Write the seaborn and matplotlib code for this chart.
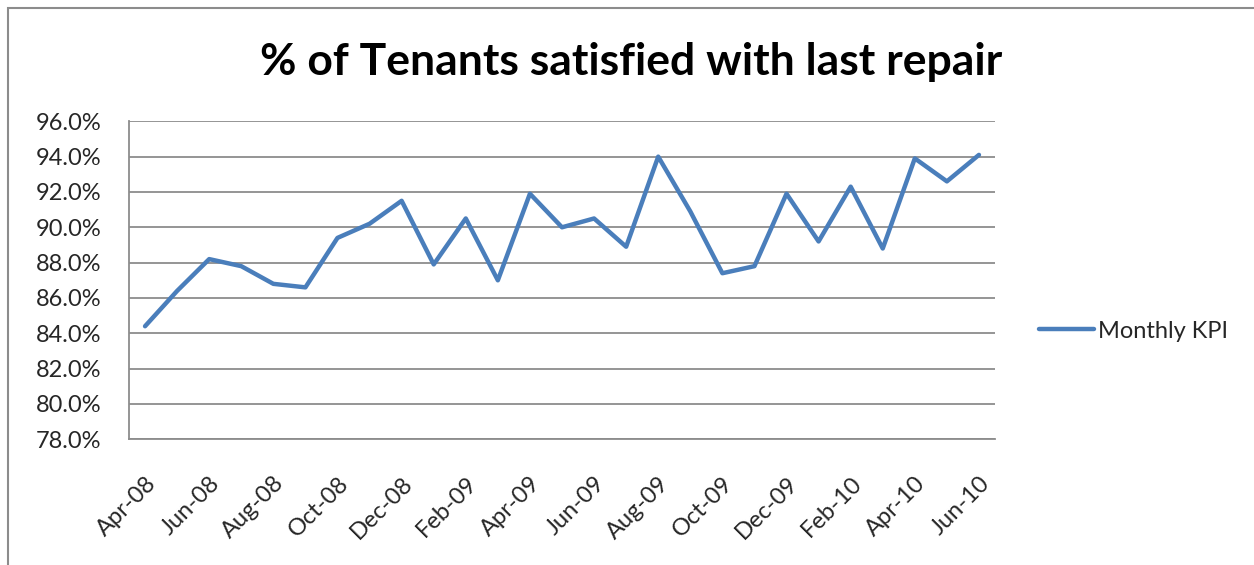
import matplotlib
matplotlib.use("Agg")
import matplotlib.pyplot as plt
import seaborn as sns
import pandas as pd
from matplotlib.patches import Rectangle

months = ["Apr-08", "May-08", "Jun-08", "Jul-08", "Aug-08", "Sep-08", "Oct-08", "Nov-08",
          "Dec-08", "Jan-09", "Feb-09", "Mar-09", "Apr-09", "May-09", "Jun-09", "Jul-09",
          "Aug-09", "Sep-09", "Oct-09", "Nov-09", "Dec-09", "Jan-10", "Feb-10", "Mar-10",
          "Apr-10", "May-10", "Jun-10"]
kpi = [84.4, 86.4, 88.2, 87.8, 86.8, 86.6, 89.4, 90.2, 91.5, 87.9, 90.5, 87.0, 91.9, 90.0,
       90.5, 88.9, 94.0, 90.9, 87.4, 87.8, 91.9, 89.2, 92.3, 88.8, 93.9, 92.6, 94.1]
y_ticks = [78, 80, 82, 84, 86, 88, 90, 92, 94, 96]
series_name = "Monthly KPI"
title = "% of Tenants satisfied with last repair"

df = pd.DataFrame({"idx": range(len(months)), "value": kpi, "series": series_name})

sns.set_style("white")
plt.rcParams["font.family"] = ["Lato", "DejaVu Sans"]

fig = plt.figure(figsize=(12.54, 5.65), dpi=100)
ax = fig.add_axes([129 / 1254, 1 - 439.3 / 565, (995 - 129) / 1254, (439.3 - 121.3) / 565])

sns.lineplot(data=df, x="idx", y="value", hue="series", palette=["#4A7EBB"],
             linewidth=3.2, ax=ax, legend=True)

ax.set_xlim(-0.5, len(months) - 0.5)
ax.set_ylim(y_ticks[0], y_ticks[-1])
ax.set_yticks(y_ticks)
ax.set_yticklabels([f"{v:.1f}%" for v in y_ticks], fontsize=17, color="#262626")
ax.yaxis.grid(True, color="#8c8c8c", linewidth=1.3)
ax.set_axisbelow(True)

# tick marks between categories (every 2), labels at every other category
ax.set_xticks([i - 0.5 for i in range(0, len(months), 2)])
ax.set_xticklabels([])
ax.set_xticks(list(range(0, len(months), 2)), minor=True)
ax.set_xticklabels([months[i] for i in range(0, len(months), 2)], minor=True,
                   rotation=45, ha="right", rotation_mode="anchor", fontsize=17, color="#262626")
ax.tick_params(axis="x", which="major", length=8, width=1.3, color="#8c8c8c", direction="out")
ax.tick_params(axis="x", which="minor", length=0, pad=24)
ax.tick_params(axis="y", length=9, width=1.3, color="#8c8c8c", direction="out", pad=11)

for s in ["top", "right"]:
    ax.spines[s].set_visible(False)
for s in ["left", "bottom"]:
    ax.spines[s].set_color("#8c8c8c")
    ax.spines[s].set_linewidth(1.3)
ax.set_xlabel("")
ax.set_ylabel("")

handles, labels = ax.get_legend_handles_labels()
ax.legend(handles, labels, loc="center left", bbox_to_anchor=(1018 / 1254, 1 - 331 / 565),
          bbox_transform=fig.transFigure, frameon=False, fontsize=17,
          handlelength=2.3, handletextpad=0.2, labelcolor="#262626")

fig.text(631 / 1254, 1 - 62 / 565, title, ha="center", va="center",
         fontsize=32, fontweight="bold", color="black")

fig.patches.append(Rectangle((8 / 1254, -0.1), 1.2, 1 - 8 / 565 + 0.1,
                             transform=fig.transFigure, fill=False,
                             edgecolor="#8c8c8c", linewidth=1.5))

fig.savefig("out.png", dpi=100, facecolor="white")
